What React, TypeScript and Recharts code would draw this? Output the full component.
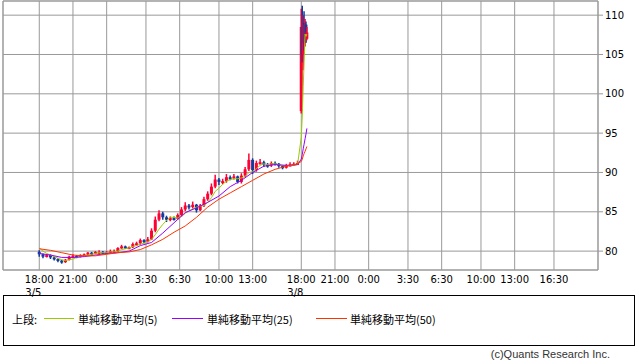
import React from 'react';
import {
  ComposedChart,
  Bar,
  Line,
  XAxis,
  YAxis,
  CartesianGrid,
  ReferenceArea,
} from 'recharts';

// candle times in trading hours since 3/5 18:00 (20-minute bars, then 5-minute bars on 3/8)
const sessionBars = 70;
const barStep = 1 / 3;
const spikeHours = [23.33, 23.42, 23.5, 23.58, 23.67, 23.75, 23.83];

const openVals = [
  79.9, 79.6, 79.3, 79.5, 79.2, 79.0, 78.8, 78.6, 78.9, 79.3,
  79.4, 79.3, 79.5, 79.6, 79.8, 79.7, 79.9, 79.9, 79.8, 79.9,
  80.0, 80.0, 80.4, 80.6, 80.5, 80.5, 80.9, 81.0, 81.4, 81.2,
  81.5, 82.6, 84.0, 84.8, 84.3, 84.0, 84.2, 84.1, 84.6, 85.3,
  85.8, 85.6, 85.9, 85.2, 85.8, 86.6, 87.3, 88.2, 89.1, 88.8,
  88.9, 89.4, 89.3, 89.5, 88.8, 89.6, 90.4, 91.6, 90.3, 91.2,
  91.3, 91.0, 90.9, 91.2, 91.1, 90.8, 90.6, 90.9, 91.0, 91.1,
  97.8, 108.5, 105.0, 109.0, 106.5, 108.8, 107.0,
];
const highVals = [
  80.1, 79.7, 79.6, 79.6, 79.3, 79.1, 78.9, 79.0, 79.4, 79.6,
  79.5, 79.6, 79.7, 79.9, 79.9, 80.0, 80.1, 80.0, 80.0, 80.2,
  80.2, 80.5, 80.8, 80.7, 80.6, 81.1, 81.2, 81.6, 81.5, 81.8,
  82.9, 84.4, 85.2, 85.0, 84.5, 84.4, 84.4, 84.8, 85.6, 86.2,
  86.0, 86.3, 86.0, 86.0, 86.9, 87.6, 88.6, 89.7, 89.3, 89.2,
  89.8, 89.6, 89.8, 89.6, 89.9, 90.7, 92.4, 91.8, 91.5, 91.7,
  91.5, 91.2, 91.4, 91.4, 91.2, 90.9, 91.1, 91.3, 91.3, 91.5,
  110.8, 111.2, 110.0, 110.5, 109.5, 109.2, 108.5,
];
const lowVals = [
  79.3, 79.1, 79.2, 79.0, 78.8, 78.6, 78.4, 78.5, 78.8, 79.2,
  79.1, 79.2, 79.4, 79.5, 79.5, 79.6, 79.7, 79.6, 79.7, 79.8,
  79.8, 79.9, 80.3, 80.3, 80.3, 80.4, 80.7, 80.8, 81.0, 81.1,
  81.4, 82.4, 83.8, 84.0, 83.7, 83.8, 83.9, 84.0, 84.4, 85.1,
  85.3, 85.4, 84.9, 85.1, 85.6, 86.4, 87.1, 88.0, 88.4, 88.5,
  88.7, 89.0, 89.1, 88.6, 88.6, 89.4, 90.2, 89.8, 90.1, 91.0,
  90.7, 90.6, 90.7, 90.9, 90.6, 90.4, 90.5, 90.8, 90.9, 91.0,
  97.5, 104.0, 103.0, 105.5, 106.0, 106.5, 106.8,
];
const closeVals = [
  79.6, 79.3, 79.5, 79.2, 79.0, 78.8, 78.6, 78.9, 79.3, 79.4,
  79.3, 79.5, 79.6, 79.8, 79.7, 79.9, 79.9, 79.8, 79.9, 80.0,
  80.0, 80.4, 80.6, 80.5, 80.5, 80.9, 81.0, 81.4, 81.2, 81.5,
  82.6, 84.0, 84.8, 84.3, 84.0, 84.2, 84.1, 84.6, 85.3, 85.8,
  85.6, 85.9, 85.2, 85.8, 86.6, 87.3, 88.2, 89.1, 88.8, 88.9,
  89.4, 89.3, 89.5, 88.8, 89.6, 90.4, 91.6, 90.3, 91.2, 91.3,
  91.0, 90.9, 91.2, 91.1, 90.8, 90.6, 90.9, 91.0, 91.1, 91.2,
  108.5, 105.0, 109.0, 106.5, 108.8, 107.0, 107.8,
];
// 単純移動平均(5), one value per candle
const ma5Vals = [
  80.4, 80.0, 79.7, 79.5, 79.3, 79.1, 78.9, 78.8, 78.9, 79.0,
  79.2, 79.3, 79.4, 79.5, 79.6, 79.7, 79.8, 79.8, 79.8, 79.9,
  79.9, 80.0, 80.2, 80.3, 80.4, 80.6, 80.7, 80.9, 81.0, 81.2,
  81.5, 82.1, 82.8, 83.4, 83.9, 84.3, 84.3, 84.2, 84.4, 84.8,
  85.1, 85.4, 85.6, 85.7, 85.8, 86.2, 86.8, 87.6, 88.0, 88.5,
  88.9, 89.1, 89.2, 89.2, 89.3, 89.5, 90.0, 90.1, 90.5, 90.9,
  91.1, 91.0, 91.1, 91.1, 91.0, 90.9, 90.9, 90.9, 90.9, 91.0,
  94.5, 97.3, 100.9, 104.0, 107.6, 107.3, 107.6,
];
// 単純移動平均(25) / (50), read hourly
const maHours = [
  0, 1, 2, 3, 4, 5, 6, 7, 8, 9, 10, 11, 12, 13, 14, 15, 16, 17, 18, 19, 20, 21, 22, 23,
  23.33, 23.42, 23.5, 23.58, 23.67, 23.75, 23.83,
];
const ma25Vals = [
  79.7, 79.5, 79.2, 79.2, 79.3, 79.5, 79.7, 79.8, 80.0, 80.7, 81.1, 82.3, 83.6, 84.9,
  85.5, 86.2, 87.0, 88.2, 89.0, 90.0, 90.8, 91.0, 90.9, 91.0,
  91.7, 92.3, 93.0, 93.6, 94.3, 94.9, 95.6,
];
const ma50Vals = [
  80.3, 80.1, 79.8, 79.5, 79.4, 79.4, 79.6, 79.8, 79.9, 80.2, 80.8, 81.5, 82.4, 83.2,
  84.3, 85.6, 86.6, 87.4, 88.2, 89.0, 89.8, 90.4, 90.8, 91.1,
  91.4, 91.7, 92.1, 92.4, 92.7, 93.0, 93.3,
];

const tickHours = [0, 3, 6, 9.5, 12.5, 16, 19, 23.33, 26.33, 29.33, 32.83, 35.83, 39.33, 42.33, 45.83];
const tickTimes = ['18:00', '21:00', '0:00', '3:30', '6:30', '10:00', '13:00', '18:00', '21:00', '0:00', '3:30', '6:30', '10:00', '13:00', '16:30'];
const tickDates = ['3/5', '', '', '', '', '', '', '3/8', '', '', '', '', '', '', ''];
const priceTicks = [80, 85, 90, 95, 100, 105, 110];

const X_DOMAIN: [number, number] = [-3.23, 49.75];
const Y_DOMAIN: [number, number] = [77.6, 111.8];

const UP = '#ff0033';
const DOWN = '#123c9c';
const GRID = '#999999';
const AXIS_FONT = 'DejaVu Sans, sans-serif';
const JP_FONT = "'Noto Sans CJK JP', sans-serif";

const candleHours = [
  ...Array.from({ length: sessionBars }, (_, i) => i * barStep),
  ...spikeHours,
];

const candles = candleHours.map((h, i) => ({
  h,
  open: openVals[i],
  high: highVals[i],
  low: lowVals[i],
  close: closeVals[i],
  range: [lowVals[i], highVals[i]],
  ma5: ma5Vals[i],
}));

const ma25Data = maHours.map((h, i) => ({ h, ma25: ma25Vals[i] }));
const ma50Data = maHours.map((h, i) => ({ h, ma50: ma50Vals[i] }));

function Candle(props: any) {
  const { x, y, width, height, payload } = props;
  if (!payload || x == null) return null;
  const { open, close, high, low } = payload;
  const color = close >= open ? UP : DOWN;
  const top = Math.min(y, y + height);
  const span = Math.abs(height);
  const ppu = high > low ? span / (high - low) : 0;
  const bodyTop = top + (high - Math.max(open, close)) * ppu;
  const bodyH = Math.max(2, Math.abs(open - close) * ppu);
  const cx = x + width / 2;
  const w = 3;
  return (
    <g>
      <line x1={cx} x2={cx} y1={top} y2={top + span} stroke={color} strokeWidth={1.5} />
      <rect x={cx - w / 2} y={bodyTop} width={w} height={bodyH} fill={color} />
    </g>
  );
}

function TimeTick(props: any) {
  const { x, y, index } = props;
  return (
    <g>
      <text x={x} y={y + 11} textAnchor="middle" fontSize={10} fontFamily={AXIS_FONT} fill="#000">
        {tickTimes[index]}
      </text>
      {tickDates[index] ? (
        <text x={x - 14} y={y + 24} textAnchor="start" fontSize={10} fontFamily={AXIS_FONT} fill="#000">
          {tickDates[index]}
        </text>
      ) : null}
    </g>
  );
}

export default function App() {
  return (
    <div style={{ position: 'absolute', left: 0, top: 0, width: 638, height: 362, background: '#fff' }}>
      <ComposedChart
        width={638}
        height={300}
        data={candles}
        margin={{ top: 1, right: 0, left: 3, bottom: 4 }}
      >
        <CartesianGrid stroke={GRID} strokeWidth={1} />
        <XAxis
          dataKey="h"
          type="number"
          domain={X_DOMAIN}
          ticks={tickHours}
          interval={0}
          allowDataOverflow
          tickLine={false}
          tickSize={0}
          axisLine={false}
          tick={<TimeTick />}
          height={26}
        />
        <YAxis
          orientation="right"
          type="number"
          domain={Y_DOMAIN}
          ticks={priceTicks}
          allowDataOverflow
          axisLine={false}
          tickLine={{ stroke: GRID }}
          tickSize={5}
          tick={{ fontSize: 10, fontFamily: AXIS_FONT, fill: '#000' }}
          width={40}
        />
        <ReferenceArea
          x1={X_DOMAIN[0]}
          x2={X_DOMAIN[1]}
          y1={Y_DOMAIN[0]}
          y2={Y_DOMAIN[1]}
          fill="none"
          stroke={GRID}
          strokeWidth={1}
        />
        <Bar dataKey="range" barSize={3} shape={<Candle />} isAnimationActive={false} />
        <Line dataKey="ma5" type="linear" stroke="#99cc00" strokeWidth={1} dot={false} isAnimationActive={false} />
        <Line data={ma25Data} dataKey="ma25" type="linear" stroke="#9900ff" strokeWidth={1} dot={false} isAnimationActive={false} />
        <Line data={ma50Data} dataKey="ma50" type="linear" stroke="#ff3300" strokeWidth={1} dot={false} isAnimationActive={false} />
      </ComposedChart>
      <div
        style={{
          position: 'absolute',
          left: 3,
          top: 295,
          width: 630,
          height: 49,
          border: '1px solid #000',
          fontFamily: JP_FONT,
          fontSize: 11,
          color: '#000',
        }}
      >
        <span style={{ position: 'absolute', left: 8, top: 15 }}>上段:</span>
        <span style={{ position: 'absolute', left: 40, top: 22, width: 30, borderTop: '1px solid #99cc00' }} />
        <span style={{ position: 'absolute', left: 74, top: 15 }}>単純移動平均(5)</span>
        <span style={{ position: 'absolute', left: 168, top: 22, width: 31, borderTop: '1px solid #9900ff' }} />
        <span style={{ position: 'absolute', left: 203, top: 15 }}>単純移動平均(25)</span>
        <span style={{ position: 'absolute', left: 312, top: 22, width: 31, borderTop: '1px solid #ff3300' }} />
        <span style={{ position: 'absolute', left: 346, top: 15 }}>単純移動平均(50)</span>
      </div>
      <div
        style={{
          position: 'absolute',
          right: 28,
          top: 348,
          fontFamily: 'Liberation Sans, sans-serif',
          fontSize: 11,
          color: '#333',
        }}
      >
        (c)Quants Research Inc.
      </div>
    </div>
  );
}
